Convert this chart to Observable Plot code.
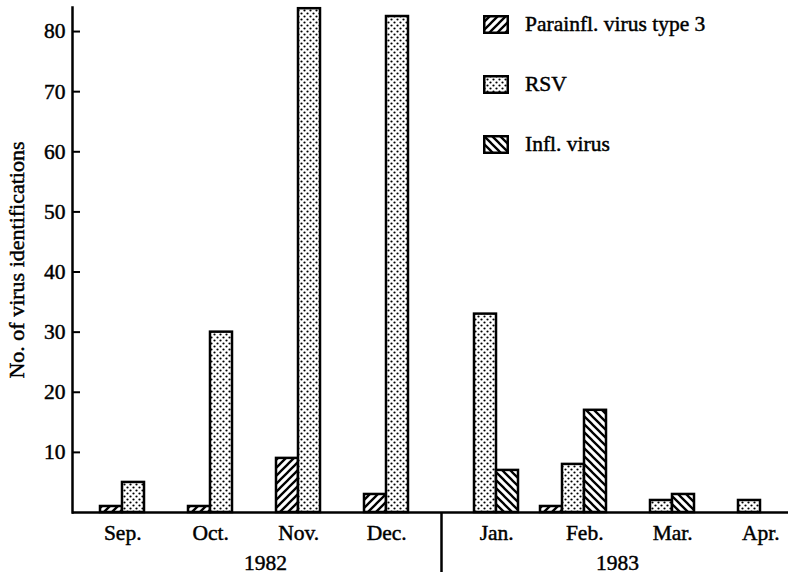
<!DOCTYPE html>
<html>
<head>
<meta charset="utf-8">
<script src="https://cdn.jsdelivr.net/npm/d3@7"></script>
<script src="https://cdn.jsdelivr.net/npm/@observablehq/plot@0.6"></script>
<style>
  html, body { margin: 0; padding: 0; background: #fff; }
  #wrap { position: relative; width: 788px; height: 575px; font-family: "Liberation Serif", "Times New Roman", serif; color: #000; }
  #wrap svg text { stroke: #000; stroke-width: 0.45px; }
  #legend { position: absolute; left: 483px; top: 15px; }
  .row { display: flex; align-items: center; height: 19px; margin-bottom: 41px; font-size: 21.5px; -webkit-text-stroke: 0.45px #000; }
  .row svg { flex: none; margin-right: 16px; }
</style>
</head>
<body>
<svg width="0" height="0" style="position:absolute">
  <defs>
    <pattern id="p-para" patternUnits="userSpaceOnUse" width="8" height="8">
      <rect width="8" height="8" fill="white"/>
      <path d="M-2,2 L2,-2 M0,8 L8,0 M6,10 L10,6" stroke="black" stroke-width="2.3"/>
    </pattern>
    <pattern id="p-rsv" patternUnits="userSpaceOnUse" width="6" height="6">
      <rect width="6" height="6" fill="white"/>
      <circle cx="1.5" cy="1.5" r="1.1" fill="black"/>
      <circle cx="4.5" cy="4.5" r="1.1" fill="black"/>
    </pattern>
    <pattern id="p-infl" patternUnits="userSpaceOnUse" width="8" height="8">
      <rect width="8" height="8" fill="white"/>
      <path d="M-2,6 L2,10 M0,0 L8,8 M6,-2 L10,2" stroke="black" stroke-width="2.3"/>
    </pattern>
  </defs>
</svg>
<div id="wrap"><div id="legend"></div></div>
<script>
// ---- data ----
const months = ["Sep.", "Oct.", "Nov.", "Dec.", "Jan.", "Feb.", "Mar.", "Apr."];
const years = ["1982", "1982", "1982", "1982", "1983", "1983", "1983", "1983"];
const viruses = ["Parainfl. virus type 3", "RSV", "Infl. virus"];
const parainfl = [1, 1, 9, 3, 0, 1, 0, 0];
const rsv = [5, 30, 83.8, 82.5, 33, 8, 2, 2];
const infl = [0, 0, 0, 0, 7, 17, 3, 0];
const yTicks = [10, 20, 30, 40, 50, 60, 70, 80];
const yLabel = "No. of virus identifications";
const patterns = ["url(#p-para)", "url(#p-rsv)", "url(#p-infl)"];

// ---- derived tables ----
const series = [parainfl, rsv, infl];
const GAP = "gap";
const key = (m, v) => `${m}|${v}`;
const xDomain = months.flatMap(m => [GAP, ...viruses].map(v => key(m, v)));
const table = months.flatMap((m, i) => viruses.map((v, j) => ({
  month: m, year: years[i], virus: v, key: key(m, v), value: series[j][i]
})));
const yearList = [...new Set(years)];
const yearRows = yearList.map(y => {
  const ms = months.filter((m, i) => years[i] === y);
  return {year: y, at: key(ms[Math.floor(ms.length / 2)], GAP)};
});
const dividerKey = key(months[years.indexOf(yearList[1])], GAP);
const labelTicks = months.map((m, i) => key(m, years[i] === yearList[0] ? viruses[0] : viruses[1]));

const W = 788, H = 575, ML = 72, MR = 0, MT = 7, MB = 63;
const slot = (W - ML - MR) / xDomain.length;

const plot = Plot.plot({
  width: W, height: H,
  marginLeft: ML, marginRight: MR, marginTop: MT, marginBottom: MB,
  style: {fontFamily: "'Liberation Serif', 'Times New Roman', serif", fontSize: "21.5px", background: "white", color: "black", overflow: "visible"},
  x: {type: "band", domain: xDomain, padding: 0, axis: null},
  y: {domain: [0, 84], axis: null},
  color: {type: "ordinal", domain: viruses, range: patterns},
  marks: [
    Plot.barY(table.filter(d => d.value > 0), {x: "key", y: "value", fill: "virus", stroke: "black", strokeWidth: 2.5}),
    Plot.ruleY([0], {strokeWidth: 2.5}),
    Plot.frame({anchor: "left", strokeWidth: 2.5}),
    Plot.axisY({ticks: yTicks, tickSize: 8, dx: 8, strokeWidth: 2, tickFormat: () => "", label: null}),
    Plot.axisY({ticks: yTicks, tickSize: 0, tickPadding: 7, label: null}),
    Plot.axisX({ticks: labelTicks, tickFormat: k => k.split("|")[0], tickSize: 0, tickPadding: 12, dx: slot / 2, label: null}),
    Plot.text(yearRows, {x: "at", text: "year", frameAnchor: "bottom", lineAnchor: "bottom", dy: 57}),
    Plot.ruleX([dividerKey], {y1: 0, insetBottom: -60, strokeWidth: 2.5}),
    Plot.text([yLabel], {frameAnchor: "left", textAnchor: "middle", rotate: -90, dx: -56, fontSize: 22})
  ]
});
const wrap = document.getElementById("wrap");
wrap.insertBefore(plot, wrap.firstChild);

// legend
const legend = document.getElementById("legend");
viruses.forEach((v, i) => {
  const row = document.createElement("div");
  row.className = "row";
  row.innerHTML = `<svg width="26" height="19"><rect x="1.25" y="1.25" width="23.5" height="16.5" fill="${patterns[i]}" stroke="black" stroke-width="2.5"/></svg><span>${v}</span>`;
  legend.appendChild(row);
});
</script>
</body>
</html>
